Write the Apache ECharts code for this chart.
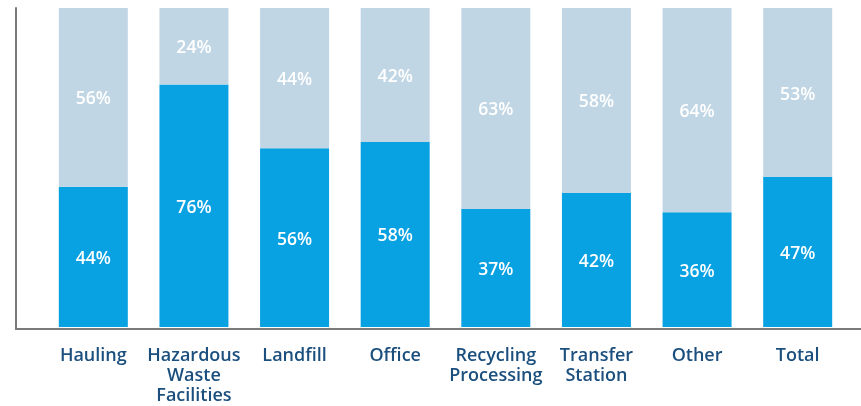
<!DOCTYPE html>
<html>
<head>
<meta charset="utf-8">
<script src="https://cdn.jsdelivr.net/npm/echarts@6/dist/echarts.min.js"></script>
<style>
html,body{margin:0;padding:0;background:#fff;}
#c{width:861px;height:406px;}
</style>
</head>
<body>
<div id="c"></div>
<script>
const categories = ['Hauling', 'Hazardous\nWaste\nFacilities', 'Landfill', 'Office', 'Recycling\nProcessing', 'Transfer\nStation', 'Other', 'Total'];
const darkValues = [44, 76, 56, 58, 37, 42, 36, 47];
const lightValues = [56, 24, 44, 42, 63, 58, 64, 53];

const chart = echarts.init(document.getElementById('c'), null, {renderer: 'canvas'});
const font = '"Open Sans", "Noto Sans", sans-serif';
const labelStyle = {
  show: true, position: 'inside', color: '#ffffff',
  fontFamily: font, fontSize: 17.5, fontWeight: 600, offset: [0, 2],
  formatter: p => p.value + '%'
};
chart.setOption({
  animation: false,
  grid: [
    {left: 43, right: 13, top: 8, bottom: 77},
    {left: 16, right: 0, top: 8, bottom: 77}
  ],
  xAxis: [
    {
      type: 'category', gridIndex: 0, data: categories,
      axisLine: {show: false}, axisTick: {show: false},
      axisLabel: {
        color: '#1b4f7e', fontFamily: font, fontSize: 18, fontWeight: 600,
        lineHeight: 20, margin: 19, interval: 0
      }
    },
    {
      type: 'category', gridIndex: 1, data: categories,
      axisLine: {show: true, lineStyle: {color: '#7a7a7a', width: 2}},
      axisTick: {show: false}, axisLabel: {show: false}
    }
  ],
  yAxis: [
    {type: 'value', gridIndex: 0, min: 0, max: 100, show: false, splitLine: {show: false}},
    {
      type: 'value', gridIndex: 1, min: 0, max: 100,
      axisLine: {show: true, lineStyle: {color: '#7a7a7a', width: 2}},
      axisTick: {show: false}, axisLabel: {show: false}, splitLine: {show: false}
    }
  ],
  series: [
    {
      type: 'bar', stack: 's', xAxisIndex: 0, yAxisIndex: 0,
      data: darkValues, barWidth: 69,
      itemStyle: {color: '#08a1e2'}, label: labelStyle
    },
    {
      type: 'bar', stack: 's', xAxisIndex: 0, yAxisIndex: 0,
      data: lightValues, barWidth: 69,
      itemStyle: {color: '#c1d6e4'}, label: labelStyle
    }
  ]
});
</script>
</body>
</html>
